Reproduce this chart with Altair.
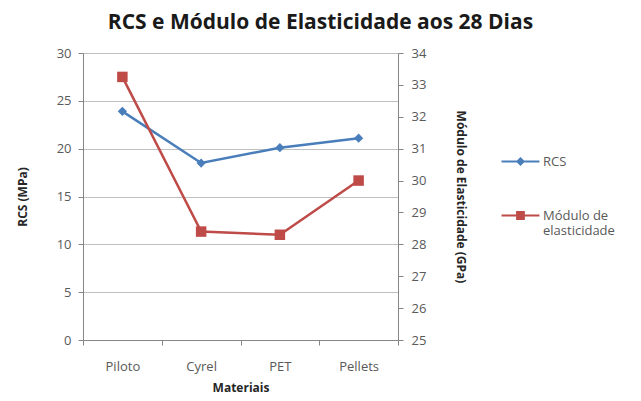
import altair as alt
import pandas as pd

materiais = ["Piloto", "Cyrel", "PET", "Pellets"]
rcs = [23.9, 18.5, 20.1, 21.1]
modulo = [33.25, 28.4, 28.3, 30.0]
series = ["RCS", "Módulo de elasticidade"]
cores = ["#4A7EBB", "#BE4B48"]

df = pd.DataFrame({"Material": materiais, "RCS": rcs, "Modulo": modulo})
df_long = pd.DataFrame({
    "Material": materiais * 2,
    "Serie": [series[0]] * 4 + [series[1]] * 4,
    "Valor": rcs + modulo,
})

FONT = "Open Sans"
GRAY = "#595959"
AX = "#868686"

x_enc = alt.X(
    "Material:N", sort=materiais,
    scale=alt.Scale(type="band", paddingInner=0, paddingOuter=0),
    axis=alt.Axis(title="Materiais", labelAngle=0, tickBand="extent",
                  domainColor=AX, tickColor=AX, tickSize=5, labelPadding=15,
                  labelFontSize=13, titleFontSize=12, titlePadding=9),
)

y_left = alt.Y("RCS:Q", scale=alt.Scale(domain=[0, 30], nice=False),
               axis=alt.Axis(title="RCS (MPa)", values=[0, 5, 10, 15, 20, 25, 30],
                             orient="left", grid=True, gridColor="#BFBFBF",
                             domainColor=AX, tickColor=AX, tickSize=5, labelPadding=7,
                             labelFontSize=13, titleFontSize=12, titlePadding=27))

y_right = alt.Y("Modulo:Q", scale=alt.Scale(domain=[25, 34], nice=False),
                axis=alt.Axis(title="Módulo de Elasticidade (GPa)",
                              values=list(range(25, 35)), orient="right", grid=False,
                              domainColor=AX, tickColor=AX, tickSize=5, labelPadding=8,
                              labelFontSize=13, titleFontSize=12, titlePadding=28))

base = alt.Chart(df)

rcs_line = base.mark_line(color=cores[0], strokeWidth=2.5).encode(x=x_enc, y=y_left)
rcs_pts = base.mark_point(shape="diamond", filled=True, size=85, color=cores[0],
                          opacity=1).encode(x=x_enc, y=y_left)

stub = "M-2.6,-0.12H2.6V0.12H-2.6Z"
diamond_path = stub + "M0,-0.62L0.62,0L0,0.62L-0.62,0Z"
square_path = stub + "M-0.6,-0.6H0.6V0.6H-0.6Z"

leg = alt.Legend(title=None, orient="none", legendX=429, legendY=100,
                 symbolSize=213, labelOffset=14, rowPadding=38,
                 labelFontSize=13, labelColor=GRAY, labelFont=FONT,
                 labelExpr="datum.label == 'Módulo de elasticidade' ? ['Módulo de', 'elasticidade'] : datum.label")

legend_layer = alt.Chart(df_long).transform_filter("false").mark_point(filled=True, opacity=1).encode(
    x=alt.X("Material:N", sort=materiais),
    y=alt.Y("Valor:Q", axis=None),
    color=alt.Color("Serie:N", scale=alt.Scale(domain=series, range=cores), legend=leg),
    shape=alt.Shape("Serie:N", scale=alt.Scale(domain=series, range=[diamond_path, square_path]),
                    legend=leg),
)

mod_line = base.mark_line(color=cores[1], strokeWidth=2.5).encode(x=x_enc, y=y_right)
mod_pts = base.mark_point(shape="square", filled=True, size=110, color=cores[1],
                          opacity=1).encode(x=x_enc, y=y_right)

left = alt.layer(rcs_line, rcs_pts)
right = alt.layer(mod_line, mod_pts)

chart = alt.layer(left, right, legend_layer).resolve_scale(y="independent").properties(
    width=315, height=287,
    autosize=alt.AutoSizeParams(type="none"),
    padding={"left": 75, "top": 45, "right": 235, "bottom": 58},
    title=alt.TitleParams("RCS e Módulo de Elasticidade aos 28 Dias", fontSize=21,
                          font=FONT, fontWeight="bold", color="#1a1a1a",
                          anchor="middle", dx=80, offset=14),
).configure_axis(
    labelFont=FONT, titleFont=FONT, labelColor=GRAY, titleColor="#262626",
    titleFontWeight="bold",
).configure_view(stroke=None)

chart.save("out.html", embed_options={"renderer": "svg", "actions": False})
